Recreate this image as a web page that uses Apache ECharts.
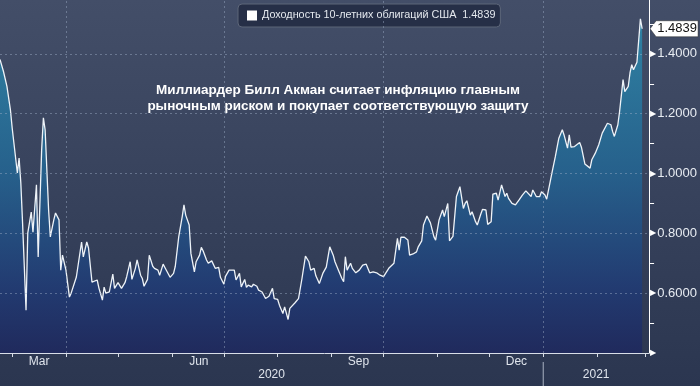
<!DOCTYPE html>
<html><head><meta charset="utf-8">
<script src="https://cdn.jsdelivr.net/npm/echarts@6/dist/echarts.min.js"></script>
<style>html,body{margin:0;padding:0;background:#2e3a52}#c{width:700px;height:386px}</style>
</head><body><div id="c"></div>
<script>
const seriesName = 'Доходность 10-летних облигаций США';
const titleLines = ['Миллиардер Билл Акман считает инфляцию главным', 'рыночным риском и покупает соответствующую защиту'];
const dates = [
'2020-02-23','2020-02-25','2020-02-27','2020-02-29','2020-03-01','2020-03-02','2020-03-03','2020-03-04','2020-03-05','2020-03-06',
'2020-03-07','2020-03-09','2020-03-10','2020-03-12','2020-03-13','2020-03-15','2020-03-16','2020-03-18','2020-03-19','2020-03-20',
'2020-03-22','2020-03-23','2020-03-25','2020-03-26','2020-03-28','2020-03-29','2020-03-30','2020-04-01','2020-04-03','2020-04-04',
'2020-04-05','2020-04-07','2020-04-10','2020-04-11','2020-04-13','2020-04-14','2020-04-16','2020-04-19','2020-04-20','2020-04-22',
'2020-04-23','2020-04-24','2020-04-26','2020-04-28','2020-04-29','2020-05-01','2020-05-02','2020-05-03','2020-05-05','2020-05-06',
'2020-05-08','2020-05-09','2020-05-11','2020-05-12','2020-05-14','2020-05-15','2020-05-16','2020-05-18','2020-05-19','2020-05-21',
'2020-05-22','2020-05-24','2020-05-25','2020-05-27','2020-05-28','2020-05-29','2020-05-31','2020-06-02','2020-06-03','2020-06-05',
'2020-06-07','2020-06-08','2020-06-09','2020-06-11','2020-06-12','2020-06-14','2020-06-15','2020-06-17','2020-06-18','2020-06-19',
'2020-06-21','2020-06-22','2020-06-24','2020-06-25','2020-06-26','2020-06-28','2020-06-29','2020-07-01','2020-07-02','2020-07-04',
'2020-07-05','2020-07-07','2020-07-08','2020-07-10','2020-07-11','2020-07-13','2020-07-14','2020-07-15','2020-07-17','2020-07-18',
'2020-07-20','2020-07-21','2020-07-23','2020-07-24','2020-07-25','2020-07-27','2020-07-29','2020-07-30','2020-08-01','2020-08-02',
'2020-08-04','2020-08-05','2020-08-07','2020-08-08','2020-08-09','2020-08-11','2020-08-13','2020-08-15','2020-08-17','2020-08-19',
'2020-08-20','2020-08-22','2020-08-23','2020-08-25','2020-08-27','2020-08-29','2020-08-31','2020-09-02','2020-09-03','2020-09-05',
'2020-09-07','2020-09-08','2020-09-09','2020-09-10','2020-09-12','2020-09-13','2020-09-15','2020-09-17','2020-09-19','2020-09-21',
'2020-09-23','2020-09-25','2020-09-27','2020-09-29','2020-10-01','2020-10-02','2020-10-04','2020-10-05','2020-10-07','2020-10-09',
'2020-10-10','2020-10-11','2020-10-13','2020-10-15','2020-10-16','2020-10-18','2020-10-20','2020-10-21','2020-10-23','2020-10-24',
'2020-10-26','2020-10-28','2020-10-30','2020-10-31','2020-11-02','2020-11-04','2020-11-05','2020-11-07','2020-11-08','2020-11-10',
'2020-11-12','2020-11-14','2020-11-16','2020-11-17','2020-11-18','2020-11-20','2020-11-21','2020-11-23','2020-11-24','2020-11-26',
'2020-11-27','2020-11-29','2020-11-30','2020-12-02','2020-12-03','2020-12-05','2020-12-06','2020-12-08','2020-12-10','2020-12-11',
'2020-12-12','2020-12-14','2020-12-16','2020-12-18','2020-12-20','2020-12-22','2020-12-25','2020-12-26','2020-12-28','2020-12-30',
'2020-12-31','2021-01-02','2021-01-03','2021-01-04','2021-01-06','2021-01-08','2021-01-10','2021-01-12','2021-01-13','2021-01-15',
'2021-01-16','2021-01-17','2021-01-19','2021-01-20','2021-01-22','2021-01-23','2021-01-25','2021-01-26','2021-01-28','2021-01-29',
'2021-01-31','2021-02-02','2021-02-04','2021-02-05','2021-02-07','2021-02-09','2021-02-10','2021-02-11','2021-02-13','2021-02-14',
'2021-02-16','2021-02-17','2021-02-19','2021-02-20','2021-02-21','2021-02-22','2021-02-24','2021-02-26','2021-02-27'
];
const yields = [
1.381,1.341,1.291,1.213,1.153,1.159,1.052,1.002,1.052,0.968,
0.835,0.543,0.801,0.871,0.804,0.962,0.721,1.079,1.186,1.146,
0.878,0.788,0.845,0.868,0.845,0.677,0.727,0.677,0.587,0.600,
0.600,0.654,0.771,0.721,0.771,0.751,0.637,0.644,0.617,0.577,
0.620,0.600,0.604,0.664,0.616,0.635,0.641,0.616,0.635,0.655,
0.705,0.646,0.683,0.711,0.660,0.649,0.623,0.646,0.727,0.690,
0.683,0.677,0.660,0.697,0.686,0.690,0.653,0.666,0.690,0.789,
0.856,0.895,0.861,0.828,0.733,0.671,0.705,0.727,0.753,0.742,
0.711,0.700,0.708,0.713,0.683,0.686,0.653,0.630,0.657,0.677,
0.675,0.677,0.644,0.666,0.621,0.646,0.619,0.627,0.621,0.630,
0.623,0.610,0.604,0.599,0.582,0.590,0.616,0.582,0.579,0.560,
0.532,0.554,0.512,0.549,0.543,0.568,0.582,0.649,0.724,0.705,
0.677,0.683,0.658,0.632,0.666,0.687,0.755,0.727,0.705,0.677,
0.649,0.638,0.722,0.677,0.700,0.683,0.668,0.677,0.694,0.697,
0.668,0.671,0.668,0.660,0.655,0.653,0.683,0.679,0.700,0.783,
0.744,0.787,0.787,0.778,0.727,0.731,0.738,0.755,0.775,0.828,
0.858,0.835,0.789,0.777,0.845,0.878,0.856,0.900,0.775,0.790,
0.923,0.956,0.883,0.900,0.909,0.861,0.872,0.839,0.828,0.864,
0.880,0.878,0.830,0.839,0.931,0.934,0.911,0.962,0.923,0.934,
0.917,0.900,0.895,0.911,0.928,0.942,0.923,0.945,0.923,0.923,
0.939,0.928,0.914,0.914,1.001,1.057,1.118,1.146,1.129,1.085,
1.129,1.088,1.090,1.085,1.104,1.088,1.032,1.036,1.018,1.046,
1.068,1.096,1.135,1.138,1.168,1.163,1.140,1.124,1.163,1.207,
1.314,1.274,1.291,1.336,1.364,1.347,1.372,1.517,1.4839
];
const lastValue = 1.4839;
const xRange = ['2020-02-23', '2021-03-03'];
const quarterLines = ['2020-04-01', '2020-07-01', '2020-10-01', '2021-01-01'];
const yTicks = [0.6, 0.8, 1.0, 1.2, 1.4];
const yRange = [0.4, 1.58];
const monthLabels = {2: 'Mar', 5: 'Jun', 8: 'Sep', 11: 'Dec'};
const years = [{label: '2020', from: '2020-02-23', to: '2021-01-01'}, {label: '2021', from: '2021-01-01', to: '2021-03-03'}];

const chart = echarts.init(document.getElementById('c'), null, {renderer: 'canvas'});
const gridCol = 'rgba(160,175,200,0.45)';
const xMaxTime = new Date(xRange[1]).getTime();
const option = {
  animation: false,
  backgroundColor: {type: 'linear', x: 0, y: 0, x2: 0, y2: 1, colorStops: [{offset: 0, color: '#434e68'}, {offset: 1, color: '#2b3650'}]},
  title: {
    text: titleLines.join('\n'), left: 333, top: 77, textAlign: 'center',
    textStyle: {color: '#ffffff', fontSize: 13.5, fontWeight: 'bold', fontFamily: 'Liberation Sans, Arial', lineHeight: 16}
  },
  legend: {
    left: 238, top: 4, icon: 'rect', itemWidth: 10, itemHeight: 10,
    backgroundColor: '#262f47', borderColor: '#5d6679', borderWidth: 1, borderRadius: 4,
    padding: [6, 5, 6, 9],
    itemStyle: {color: '#ffffff'},
    textStyle: {color: '#e4e8ee', fontSize: 10.8, fontFamily: 'Liberation Sans, Arial'},
    formatter: n => n + '  ' + lastValue.toFixed(4),
    selectedMode: false
  },
  grid: {left: 0, right: 50, top: 0, bottom: 33},
  xAxis: {
    type: 'time', min: xRange[0], max: xRange[1],
    minInterval: 28 * 864e5, maxInterval: 31 * 864e5,
    axisLine: {show: true, lineStyle: {color: '#d8dee8', width: 1}},
    axisTick: {show: true, length: 4, lineStyle: {color: '#d8dee8'}},
    splitLine: {show: false},
    axisLabel: {
      margin: 3, align: 'left', color: '#dfe4ec', fontSize: 12, fontFamily: 'Liberation Sans Narrow, Liberation Sans, Arial',
      showMinLabel: false, showMaxLabel: false, hideOverlap: false,
      formatter: v => {
        const d = new Date(v);
        if (d.getDate() !== 1 || v + 27 * 864e5 > xMaxTime) return '';
        const m = monthLabels[d.getMonth()];
        return m ? '{m|' + m + '}' : '';
      },
      rich: {m: {width: 54, align: 'center', color: '#dfe4ec', fontSize: 12, fontFamily: 'Liberation Sans Narrow, Liberation Sans, Arial'}}
    }
  },
  yAxis: {
    type: 'value', position: 'right', min: yRange[0], max: yRange[1], interval: 0.2,
    axisLine: {show: true, lineStyle: {color: '#ffffff', width: 1}},
    axisTick: {show: false},
    minorTick: {show: true, splitNumber: 2, length: 5, lineStyle: {color: '#ffffff'}},
    splitLine: {show: false},
    axisLabel: {
      margin: 1, showMaxLabel: false,
      formatter: v => {
        if (Math.abs(v - yRange[1]) < 1e-6) return '';
        if (Math.abs(v - yRange[0]) < 1e-6) return '{t|▶}';
        return '{t|▶}{v|' + v.toFixed(4) + '}';
      },
      rich: {
        t: {color: '#ffffff', fontSize: 8, fontFamily: 'DejaVu Sans', padding: [0, 1, 0, 0]},
        v: {color: '#e8ecf2', fontSize: 13, fontFamily: 'Liberation Sans, Arial'}
      }
    }
  },
  series: [{
    name: seriesName, type: 'line', showSymbol: false, symbol: 'none',
    data: dates.map((d, i) => [d, yields[i]]),
    lineStyle: {color: '#eef3f8', width: 1.3},
    itemStyle: {color: '#ffffff'},
    areaStyle: {
      origin: 'start',
      color: {type: 'linear', x: 0, y: 0, x2: 0, y2: 1, colorStops: [
        {offset: 0, color: '#2799bd'}, {offset: 0.45, color: '#1f6ea0'}, {offset: 0.8, color: '#1c3b7d'}, {offset: 1, color: '#1a2461'}]}
    },
    markLine: {
      silent: true, symbol: 'none', label: {show: false},
      lineStyle: {type: [2, 3], color: gridCol, width: 1},
      data: quarterLines.map(d => ({xAxis: d})).concat(yTicks.map(v => ({yAxis: v})))
    }
  }]
};
chart.setOption(option);

const axisX = chart.convertToPixel({xAxisIndex: 0}, xRange[1]);
const baseY = chart.convertToPixel({yAxisIndex: 0}, yRange[0]);
const tagY = chart.convertToPixel({yAxisIndex: 0}, lastValue);
const graphics = [];
years.forEach(y => {
  const a = chart.convertToPixel({xAxisIndex: 0}, y.from);
  const b = chart.convertToPixel({xAxisIndex: 0}, y.to);
  graphics.push({type: 'text', x: (a + b) / 2, y: baseY + 22, style: {text: y.label, fill: '#dfe4ec', font: '12px "Liberation Sans Narrow", "Liberation Sans", Arial', textAlign: 'center', textVerticalAlign: 'middle'}});
});
const sepX = chart.convertToPixel({xAxisIndex: 0}, years[1].from);
graphics.push({type: 'line', shape: {x1: sepX, y1: baseY + 9, x2: sepX, y2: 386}, style: {stroke: '#a9b2c2', lineWidth: 1}});
graphics.push({type: 'polygon', shape: {points: [[axisX + 1, tagY], [axisX + 7, tagY - 8], [axisX + 49, tagY - 8], [axisX + 49, tagY + 8], [axisX + 7, tagY + 8]]}, style: {fill: '#ffffff', stroke: '#222', lineWidth: 0.5}});
graphics.push({type: 'text', x: axisX + 28, y: tagY, style: {text: lastValue.toFixed(4), fill: '#111', font: '13px "Liberation Sans", Arial', textAlign: 'center', textVerticalAlign: 'middle'}});
chart.setOption({graphic: graphics});
</script></body></html>
